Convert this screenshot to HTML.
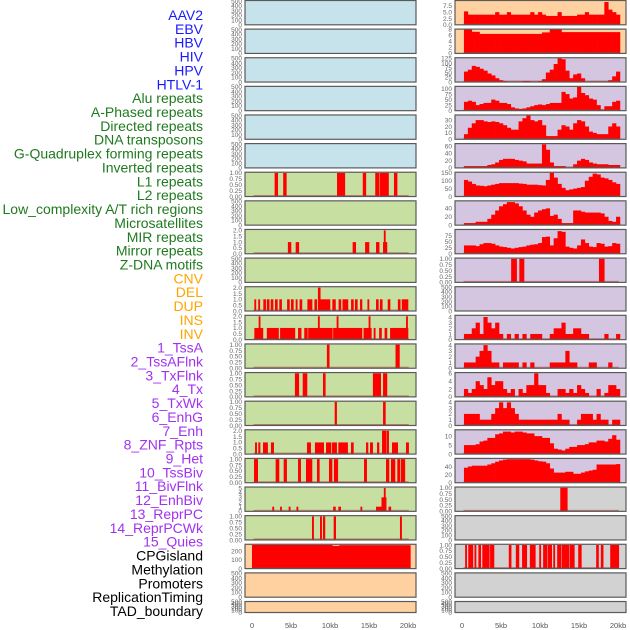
<!DOCTYPE html>
<html><head><meta charset="utf-8"><style>
html,body{margin:0;padding:0;background:#fff;}
svg{display:block;font-family:"Liberation Sans",sans-serif;}
</style></head><body>
<svg id="chart" width="630" height="630" viewBox="0 0 630 630" xmlns="http://www.w3.org/2000/svg"></svg>
<script>
// ---- labels ----
const labelNames = ["AAV2","EBV","HBV","HIV","HPV","HTLV-1","Alu repeats","A-Phased repeats","Directed repeats","DNA transposons","G-Quadruplex forming repeats","Inverted repeats","L1 repeats","L2 repeats","Low_complexity A/T rich regions","Microsatellites","MIR repeats","Mirror repeats","Z-DNA motifs","CNV","DEL","DUP","INS","INV","1_TssA","2_TssAFlnk","3_TxFlnk","4_Tx","5_TxWk","6_EnhG","7_Enh","8_ZNF_Rpts","9_Het","10_TssBiv","11_BivFlnk","12_EnhBiv","13_ReprPC","14_ReprPCWk","15_Quies","CPGisland","Methylation","Promoters","ReplicationTiming","TAD_boundary"];
const labelGroups = [6,13,5,15,5];
const xTickLabels = ["0","5kb","10kb","15kb","20kb"];
const xTickValues = [0,5,10,15,20];
const binaryTicks = ["0.00","0.25","0.50","0.75","1.00"];
const twoTicks = ["0.0","0.5","1.0","1.5","2.0"];
const emptyTicks = ["0","100","200","300","400","500"];

// ---- left column event data [startKb, endKb, value] ----
const leftL1 = [[2.9,3.3,1],[4.0,4.4,1],[10.9,11.9,1],[14.2,14.6,1],[15.8,16.3,1],[16.4,17.5,1],[18.2,18.6,1]];
const leftMIR = [[4.6,5.0,1],[5.6,6.0,1],[12.9,13.3,1],[14.5,15.0,1],[15.9,16.3,1],[16.8,17.3,1],[16.9,17.1,2]];
const leftDEL = [[0.3,0.5,1],[0.8,1.0,1],[1.45,1.75,1],[1.9,2.2,1],[2.4,2.7,1],[2.95,3.25,1],[3.5,3.8,1],[4.5,4.8,1],[5.0,5.3,1],[5.6,5.8,1],[6.1,6.4,1],[7.1,7.7,1],[8.0,8.3,1],[8.45,8.75,2],[8.75,10.0,1],[10.3,10.7,1],[11.1,11.4,1],[11.6,12.3,1],[12.7,13.0,1],[13.2,13.5,1],[13.85,14.1,1],[14.8,15.0,1],[15.9,16.2,1],[16.4,16.7,1],[17.4,17.7,1],[18.7,19.0,1],[19.2,20.0,1]];
const leftINS = [[0.3,1.4,1],[1.9,3.4,1],[3.6,5.5,1],[5.9,6.3,1],[6.7,7.1,1],[7.2,10.3,1],[10.4,14.1,1],[14.3,15.3,1],[15.6,15.8,1],[16.3,16.6,1],[17.0,17.3,1],[17.7,20.0,1],[0.85,1.05,2],[8.45,8.65,2],[10.85,11.05,2],[14.95,15.15,2],[19.75,19.95,2]];
const leftTssA = [[9.6,9.9,1],[18.4,18.9,1]];
const leftTssAFlnk = [[5.5,6.0,1],[6.5,7.05,1],[9.1,9.4,1],[15.5,16.5,1],[16.8,17.3,1]];
const leftTxFlnk = [[10.6,10.85,1],[16.8,17.1,1]];
const leftZNF = [[0.39,0.6,1],[0.81,1.03,1],[1.41,2.0,1],[2.43,2.78,1],[7.05,7.52,1],[8.07,9.19,1],[9.49,10.13,1],[10.26,10.85,1],[11.07,12.26,1],[12.69,13.0,1],[14.62,14.87,1],[15.13,15.47,1],[16.03,16.28,1],[16.67,17.18,2],[17.27,17.52,2],[17.95,18.68,1],[19.74,20.08,1]];
const leftTssBiv = [[0.26,0.73,1],[3.03,3.46,1],[4.06,4.44,1],[5.9,6.24,1],[6.92,7.69,1],[8.33,8.63,1],[9.87,10.26,1],[10.5,11.0,1],[14.36,14.7,1],[17.18,17.56,1],[17.82,18.33,1],[18.63,18.97,1],[19.1,19.6,1]];
const leftBivFlnk = [[2.6,2.8,1],[3.6,3.8,1],[4.7,4.9,1],[5.7,5.9,1],[10.4,10.7,1],[11.07,11.37,1],[13.9,14.1,1],[15.9,16.6,1],[16.6,17.2,3],[16.9,17.1,5],[17.5,17.8,1]];
const leftEnhBiv = [[7.69,7.9,1],[8.72,8.93,1],[9.1,9.35,1],[10.47,10.73,1],[18.97,19.18,1]];
const leftCPG = [[0,10.3,272],[10.3,11.2,262],[11.2,20.3,270]];

// ---- right column binned data (0.5kb bins from 0.25kb) ----
const rAAV2 = [5.3,4,4,4,4,4,4,4,5,4,4,5,4,4,4,4,4,5,4,5,4,3.5,3.5,3.5,5,3.5,3.5,3.5,3.5,4,4,5,4,4,4,4,9,6,5,4];
const rEBV = [8,8,7.2,7.2,6.5,6.5,6.5,6.5,6.5,6.5,6.5,6.5,6.5,6.5,6.5,6.5,6.5,6.5,6.5,6.5,7,7,8,8,8,7.1,7.1,7.1,7.1,7.1,7.1,7.1,7.1,7.1,7.1,7.1,7.1,7.1,7.1,7.1];
const rHBV = [55,65,85,80,70,60,45,35,20,10,5,2,2,2,2,5,5,3,3,5,15,50,65,95,125,120,60,20,40,45,20,3,3,3,3,3,3,10,30,55];
const rHIV = [40,45,40,25,30,35,35,50,45,35,35,30,15,10,8,10,15,20,25,28,25,30,35,35,35,85,75,55,60,108,80,70,55,50,25,5,20,20,40,45];
const rHPV = [8,18,25,30,30,28,27,28,27,25,22,18,15,15,28,33,37,30,28,30,22,5,5,5,15,22,20,15,25,30,28,20,12,10,8,8,8,20,25,20];
const rHTLV = [5,5,5,5,5,5,8,10,15,22,25,25,25,22,20,18,12,12,12,12,65,50,15,5,5,5,0,0,10,20,25,22,15,12,10,10,10,8,8,8];
const rAlu = [105,95,80,70,68,65,70,75,80,85,85,85,85,85,82,80,75,75,75,72,70,105,150,120,80,55,40,45,50,55,60,100,125,145,140,120,115,105,90,80];
const rAPhased = [5,5,5,8,8,8,15,25,35,45,50,55,55,52,45,35,25,20,30,35,38,40,22,25,15,5,5,5,35,35,32,30,30,30,30,28,20,10,8,20];
const rDirected = [35,35,35,32,40,45,45,42,35,30,28,25,22,25,28,30,35,38,40,45,70,72,35,65,95,92,30,25,22,35,60,45,30,28,45,42,30,32,45,42];
const rDNA = [[6.3,7.0,1],[7.35,7.95,1],[17.56,18.24,1]];
const rInverted = [1,1,2,3,1,4,3,2,3,1,0,1,0,1,0,1,0,1,1,1,0,0,1,2,2,3,1,1,2,2,1,1,0,0,0,0,1,0,0,1];
const rL1 = [1,1,1,2,3,4,3,1,1,0,1,1,1,1,0,1,0,1,0,0,0,0,1,1,1,1,3,1,1,0,0,0,1,1,0,0,0,1,0,0];
const rL2 = [2,1,2,4,3,2,5,3,4,4,2,1,2,0,2,1,3,3,6,3,3,1,0,0,2,2,1,2,1,3,2,1,0,0,2,0,1,3,3,2];
const rLowComp = [2,2,2,2,1,1,1,2,3,4,3,4,3,2,1,1,1,1,1,1,1,1,1,1,2,1,1,0,0,1,2,2,2,1,2,1,1,0,1,1];
const rMicro = [5,5,5,5.5,7,7.5,9,9,11,11.5,12.5,12.5,12,12.5,12.5,12,11.5,11.5,10,10,9,9,6,3,2.5,2,3,4,4,5,5,5.5,6.5,6.5,7.5,7.5,7,8.5,10.5,8];
const rMIR = [37,40,42,42,42,42,45,48,52,55,57,58,58,58,58,58,58,57,55,53,52,48,35,25,25,25,27,27,22,22,25,28,30,32,45,45,45,45,45,46];
const rMirror = [[12.6,13.5,1]];
const rCPG = [[0.4,0.6,1],[0.8,1.4,1],[1.6,1.8,1],[2.1,2.4,1],[2.6,3.5,1],[3.6,4.1,1],[6.0,6.3,1],[6.9,7.3,1],[7.7,8.3,1],[8.7,9.4,1],[9.9,10.1,1],[10.4,10.9,1],[11.0,11.5,1],[11.7,11.9,1],[12.2,12.7,1],[12.8,13.7,1],[13.8,14.4,1],[14.9,15.3,1],[17.2,17.5,1],[17.8,18.1,1],[19.0,20.1,1]];

const BLUE="#c6e3ec", GREEN="#c7e0a2", ORANGE="#ffd0a0", PURPLE="#d4c5e1", GREY="#d2d2d2";
const B=0.25;
const leftRows = [
 [BLUE,"empty"],[BLUE,"empty"],[BLUE,"empty"],[BLUE,"empty"],[BLUE,"empty"],[BLUE,"empty"],
 [GREEN,"ev",leftL1,1.03,binaryTicks,B],[GREEN,"empty"],[GREEN,"ev",leftMIR,2.08,twoTicks,0.5],[GREEN,"empty"],
 [GREEN,"ev",leftDEL,2.08,twoTicks,0.5],[GREEN,"ev",leftINS,2.08,twoTicks,0.5],[GREEN,"ev",leftTssA,1.03,binaryTicks,B],
 [GREEN,"ev",leftTssAFlnk,1.03,binaryTicks,B],[GREEN,"ev",leftTxFlnk,1.03,binaryTicks,B],[GREEN,"ev",leftZNF,2.08,twoTicks,0.5],
 [GREEN,"ev",leftTssBiv,1.03,binaryTicks,B],[GREEN,"ev",leftBivFlnk,5.2,["0","1","2","3","4","5"],1],[GREEN,"ev",leftEnhBiv,1.03,binaryTicks,B],
 [ORANGE,"ev",leftCPG,280,["0","100","200"],100],[ORANGE,"empty"],[ORANGE,"empty"]
];
const rightRows = [
 [ORANGE,"bin",rAAV2,9.6,["0.0","2.5","5.0","7.5"],2.5],[ORANGE,"bin",rEBV,8.1,["0","2","4","6","8"],2],
 [PURPLE,"bin",rHBV,128,["0","25","50","75","100","125"],25],[PURPLE,"bin",rHIV,110,["0","25","50","75","100"],25],
 [PURPLE,"bin",rHPV,38,["0","10","20","30"],10],[PURPLE,"bin",rHTLV,67,["0","20","40","60"],20],
 [PURPLE,"bin",rAlu,154,["0","50","100","150"],50],[PURPLE,"bin",rAPhased,58,["0","20","40"],20],
 [PURPLE,"bin",rDirected,102,["0","25","50","75"],25],[PURPLE,"ev",rDNA,1.03,binaryTicks,B],[PURPLE,"empty"],
 [PURPLE,"bin",rInverted,4.3,["0","1","2","3","4"],1],[PURPLE,"bin",rL1,4.2,["0","1","2","3","4"],1],
 [PURPLE,"bin",rL2,6.2,["0","2","4","6"],2],[PURPLE,"bin",rLowComp,4.2,["0","1","2","3","4"],1],
 [PURPLE,"bin",rMicro,13.5,["0","5","10"],5],[PURPLE,"bin",rMIR,60,["0","20","40"],20],
 [GREY,"ev",rMirror,1.03,binaryTicks,B],[GREY,"empty"],[GREY,"ev",rCPG,1.03,binaryTicks,B],[GREY,"empty"],[GREY,"empty"]
];

const NS="http://www.w3.org/2000/svg";
const svg=document.getElementById('chart');
function mk(tag,attrs,parent){const e=document.createElementNS(NS,tag);for(const k in attrs)e.setAttribute(k,attrs[k]);(parent||svg).appendChild(e);return e;}
const KX=7.8, XMAX=20.3;
function rowTop(i){return 0.5+i*28.62;}
function rowH(i){return i===21?11:24.3;}

const groupColors=["#1a1aff","#1f7a1f","#ffa500","#a032f0","#000000"];
let li=0;
labelGroups.forEach((n,g)=>{for(let k=0;k<n;k++){const t=mk('text',{x:203,y:15+li*13.86+5,'text-anchor':'end','font-size':14,fill:groupColors[g]});


t.textContent=labelNames[li];li++;}});

function drawPanel(row,i,px,x0,side){
 const top=rowTop(i),h=rowH(i),w=171,bot=top+h;
 const g=mk('g',{});
 
 
 const bg=mk('rect',{x:px,y:top,width:w,height:h,fill:row[0]},g);
 
 
 const kind=row[1];
 let ymax, ticks, step;
 if(kind==="empty"){ymax=510;ticks=emptyTicks;step=100;}
 else {ymax=row[3];ticks=row[4];step=row[5];}
 const ys=v=>bot-v/ymax*h;
 const xs=kb=>x0+kb*KX;
 if(kind==="bin"){
  row[2].forEach((v,b)=>{const s=0.25+b*0.5;const e=Math.min(s+0.5,XMAX);if(s>=XMAX||v<=0)return;
   const r=mk('rect',{x:xs(s),y:ys(v),width:xs(e)-xs(s)+0.3,height:bot-ys(v),fill:"#ff0000"},g);
   
   });
 } else if(kind==="ev"){
  row[2].forEach(d=>{const r=mk('rect',{x:xs(d[0]),y:ys(d[2]),width:Math.max(xs(d[1])-xs(d[0])+0.3,1.2),height:bot-ys(d[2]),fill:"#ff0000"},g);
   
   });
 }
 if(kind!=="empty"){const bl=mk('rect',{x:xs(0.2),y:bot-1.5,width:xs(20.1)-xs(0.2),height:1.2,fill:"#b03030",opacity:0.55},g);
  
  }
 const fr=mk('rect',{x:px,y:top,width:w,height:h,fill:"none",stroke:"#5a5a5a","stroke-width":1.2},g);
 
 
 ticks.forEach((t,k)=>{const v=k*step;const tt=mk('text',{x:px-3,y:ys(v)+2.3,'text-anchor':'end','font-size':6.5,fill:"#666"},g);
  
  
  tt.textContent=t;});
}
leftRows.forEach((r,i)=>drawPanel(r,i,245,252,'left'));
rightRows.forEach((r,i)=>drawPanel(r,i,455,462,'right'));

[252,462].forEach(x0=>{xTickValues.forEach((v,k)=>{const t=mk('text',{x:x0+v*KX,y:628,'text-anchor':'middle','font-size':7.5,fill:"#555"});
 
 
 t.textContent=xTickLabels[k];});});
</script>
</body></html>
